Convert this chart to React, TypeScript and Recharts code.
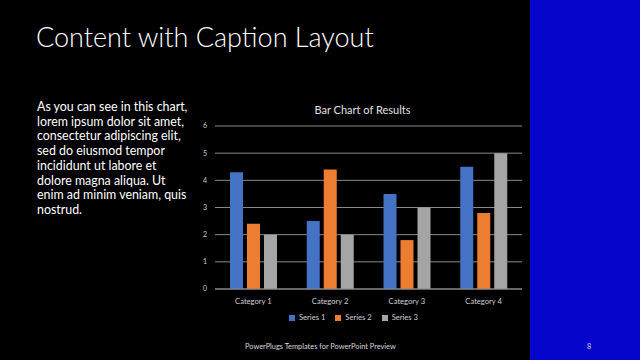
import { BarChart, Bar, XAxis, YAxis, CartesianGrid, Legend } from 'recharts';

const categories = ['Category 1', 'Category 2', 'Category 3', 'Category 4'];
const series1 = [4.3, 2.5, 3.5, 4.5];
const series2 = [2.4, 4.4, 1.8, 2.8];
const series3 = [2, 2, 3, 5];
const yTicks = [0, 1, 2, 3, 4, 5, 6];

const captionLines = [
    'As you can see in this chart,',
    'lorem ipsum dolor sit amet,',
    'consectetur adipiscing elit,',
    'sed do eiusmod tempor',
    'incididunt ut labore et',
    'dolore magna aliqua. Ut',
    'enim ad minim veniam, quis',
    'nostrud.',
];

const data = categories.map((name, i) => ({
    name,
    s1: series1[i],
    s2: series2[i],
    s3: series3[i],
}));

const font = 'Lato, "Open Sans", sans-serif';

export default function App() {
    return (
        <div
            style={{
                position: 'fixed',
                left: 0,
                top: 0,
                width: 640,
                height: 360,
                background: '#000',
                overflow: 'hidden',
                fontFamily: font,
            }}
        >
            {/* right blue panel */}
            <div style={{ position: 'absolute', left: 530, top: 0, width: 110, height: 360, background: '#0505cc' }} />

            <div
                style={{
                    position: 'absolute',
                    left: 36,
                    top: 20,
                    color: '#fff',
                    fontSize: 27,
                    fontWeight: 300,
                    whiteSpace: 'nowrap',
                }}
            >
                Content with Caption Layout
            </div>

            <div
                style={{
                    position: 'absolute',
                    left: 37,
                    top: 100,
                    color: '#fff',
                    fontSize: 12.4,
                    lineHeight: '14.7px',
                    whiteSpace: 'nowrap',
                }}
            >
                {captionLines.map((line) => (
                    <div key={line}>{line}</div>
                ))}
            </div>

            <div style={{ position: 'absolute', left: 195, top: 95 }}>
                <div
                    style={{
                        position: 'absolute',
                        left: 0,
                        top: 8,
                        width: 335,
                        textAlign: 'center',
                        color: '#e0e0e0',
                        fontSize: 11,
                        zIndex: 1,
                    }}
                >
                    Bar Chart of Results
                </div>
                <BarChart
                    width={335}
                    height={230}
                    data={data}
                    margin={{ top: 31, right: 8, left: 0, bottom: 2 }}
                    barSize={13}
                    barGap={4}
                >
                    <CartesianGrid vertical={false} stroke="#8a8a8a" strokeWidth={1} />
                    <XAxis
                        dataKey="name"
                        height={22}
                        axisLine={{ stroke: '#8a8a8a' }}
                        tickLine={false}
                        tick={{ fill: '#d0d0d0', fontSize: 7.6, fontFamily: font }}
                        tickMargin={4}
                    />
                    <YAxis
                        width={20}
                        domain={[0, 6]}
                        ticks={yTicks}
                        axisLine={false}
                        tickLine={false}
                        tick={{ fill: '#d0d0d0', fontSize: 7, fontFamily: font }}
                    />
                    <Legend
                        verticalAlign="bottom"
                        height={12}
                        iconType="square"
                        iconSize={6}
                        wrapperStyle={{ fontSize: 7.6, fontFamily: font, color: '#d0d0d0', lineHeight: '12px' }}
                        formatter={(value) => <span style={{ color: '#d0d0d0' }}>{value}</span>}
                    />
                    <Bar dataKey="s1" name="Series 1" fill="#4472c4" isAnimationActive={false} />
                    <Bar dataKey="s2" name="Series 2" fill="#ed7d31" isAnimationActive={false} />
                    <Bar dataKey="s3" name="Series 3" fill="#a5a5a5" isAnimationActive={false} />
                </BarChart>
            </div>

            <div
                style={{
                    position: 'absolute',
                    left: 245,
                    top: 342,
                    color: '#d8d8d8',
                    fontSize: 7.4,
                    whiteSpace: 'nowrap',
                }}
            >
                PowerPlugs Templates for PowerPoint Preview
            </div>
            <div style={{ position: 'absolute', left: 587, top: 342, color: '#d8d8d8', fontSize: 7.4 }}>8</div>
        </div>
    );
}
